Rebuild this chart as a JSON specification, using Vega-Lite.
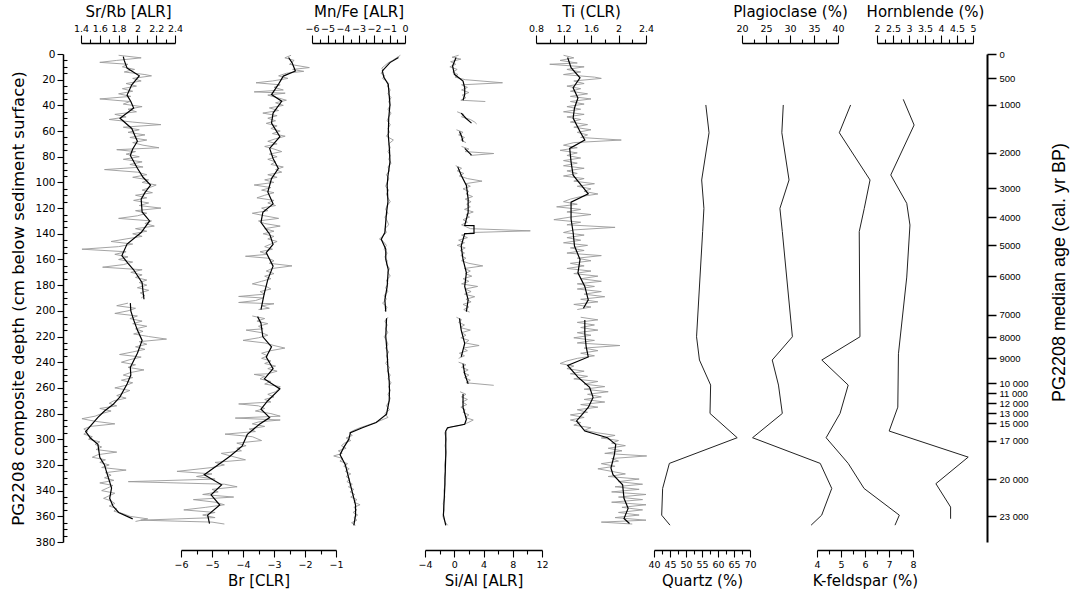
{
"$schema": "https://vega.github.io/schema/vega-lite/v6.json",
"width": 924, "height": 488,
"autosize": {"type": "none"},
"padding": {"left": 63, "top": 54, "right": 85, "bottom": 55},
"background": "white",
"config": {
 "view": {"stroke": null},
 "axis": {"domainColor": "black", "tickColor": "black", "labelColor": "black", "titleColor": "black", "labelFont": "DejaVu Sans", "titleFont": "DejaVu Sans", "titleFontWeight": "normal", "grid": false, "labelFontSize": 9.5, "titleFontSize": 15, "domainWidth": 1.3, "tickWidth": 1.1, "labelOverlap": false, "labelFlush": false}
},
"datasets": {
 "srrb_raw": [
{"d":1,"v":1.80,"g":0},{"d":3,"v":2.04,"g":0},{"d":5,"v":1.78,"g":0},{"d":6.5,"v":1.60,"g":0},{"d":8,"v":1.90,"g":0},{"d":10,"v":1.84,"g":0},{"d":12,"v":1.97,"g":0},{"d":14,"v":1.86,"g":0},{"d":16,"v":2.08,"g":0},{"d":17,"v":2.15,"g":0},{"d":19,"v":1.95,"g":0},{"d":21,"v":2.04,"g":0},{"d":23,"v":1.88,"g":0},{"d":25,"v":1.99,"g":0},{"d":27,"v":1.84,"g":0},{"d":29,"v":1.95,"g":0},{"d":31,"v":1.80,"g":0},{"d":33,"v":1.93,"g":0},{"d":35,"v":1.60,"g":0},{"d":37,"v":1.92,"g":0},{"d":39,"v":1.85,"g":0},{"d":41,"v":2.05,"g":0},{"d":43,"v":1.90,"g":0},{"d":45,"v":1.99,"g":0},{"d":47,"v":1.76,"g":0},{"d":49,"v":1.88,"g":0},{"d":51,"v":1.70,"g":0},{"d":53,"v":1.95,"g":0},{"d":55,"v":2.25,"g":0},{"d":57,"v":1.85,"g":0},{"d":59,"v":2.02,"g":0},{"d":61,"v":1.90,"g":0},{"d":63,"v":2.08,"g":0},{"d":65,"v":1.92,"g":0},{"d":67,"v":2.10,"g":0},{"d":69,"v":1.95,"g":0},{"d":71,"v":2.06,"g":0},{"d":73,"v":2.23,"g":0},{"d":74.5,"v":1.78,"g":0},{"d":76,"v":1.98,"g":0},{"d":78,"v":1.88,"g":0},{"d":80,"v":2.02,"g":0},{"d":82,"v":1.85,"g":0},{"d":84,"v":2.05,"g":0},{"d":86,"v":1.92,"g":0},{"d":88,"v":2.06,"g":0},{"d":90,"v":1.65,"g":0},{"d":92,"v":2.0,"g":0},{"d":94,"v":2.10,"g":0},{"d":96,"v":1.95,"g":0},{"d":98,"v":2.12,"g":0},{"d":100,"v":2.05,"g":0},{"d":102,"v":2.20,"g":0},{"d":104,"v":2.13,"g":0},{"d":106,"v":2.05,"g":0},{"d":108,"v":2.16,"g":0},{"d":110,"v":1.98,"g":0},{"d":112,"v":2.10,"g":0},{"d":114,"v":1.96,"g":0},{"d":116,"v":2.12,"g":0},{"d":118,"v":2.02,"g":0},{"d":120,"v":2.25,"g":0},{"d":122,"v":1.98,"g":0},{"d":124,"v":2.10,"g":0},{"d":126,"v":2.00,"g":0},{"d":128,"v":1.80,"g":0},{"d":130,"v":2.15,"g":0},{"d":132,"v":2.08,"g":0},{"d":134,"v":2.18,"g":0},{"d":136,"v":1.98,"g":0},{"d":138,"v":2.10,"g":0},{"d":140,"v":1.95,"g":0},{"d":142,"v":2.05,"g":0},{"d":144,"v":1.88,"g":0},{"d":146,"v":1.72,"g":0},{"d":148,"v":1.95,"g":0},{"d":150,"v":1.80,"g":0},{"d":152,"v":1.41,"g":0},{"d":154,"v":1.88,"g":0},{"d":156,"v":1.76,"g":0},{"d":158,"v":1.90,"g":0},{"d":160,"v":1.80,"g":0},{"d":162,"v":1.95,"g":0},{"d":164,"v":1.85,"g":0},{"d":166,"v":1.63,"g":0},{"d":168,"v":2.05,"g":0},{"d":170,"v":1.93,"g":0},{"d":172,"v":2.05,"g":0},{"d":174,"v":1.98,"g":0},{"d":176,"v":2.10,"g":0},{"d":178,"v":2.02,"g":0},{"d":180,"v":2.10,"g":0},{"d":182,"v":2.0,"g":0},{"d":184,"v":2.12,"g":0},{"d":186,"v":2.03,"g":0},{"d":188,"v":2.08,"g":0},{"d":190,"v":2.04,"g":0},
{"d":194,"v":1.90,"g":1},{"d":196,"v":1.78,"g":1},{"d":198,"v":1.98,"g":1},{"d":200,"v":1.90,"g":1},{"d":202,"v":1.76,"g":1},{"d":204,"v":2.0,"g":1},{"d":206,"v":1.92,"g":1},{"d":208,"v":2.05,"g":1},{"d":210,"v":1.95,"g":1},{"d":212,"v":2.10,"g":1},{"d":214,"v":1.98,"g":1},{"d":216,"v":2.06,"g":1},{"d":218,"v":1.96,"g":1},{"d":220,"v":2.12,"g":1},{"d":222,"v":2.31,"g":1},{"d":224,"v":2.02,"g":1},{"d":226,"v":2.10,"g":1},{"d":228,"v":1.98,"g":1},{"d":230,"v":2.08,"g":1},{"d":232,"v":1.95,"g":1},{"d":234,"v":1.81,"g":1},{"d":236,"v":2.04,"g":1},{"d":238,"v":1.92,"g":1},{"d":240,"v":1.83,"g":1},{"d":242,"v":1.98,"g":1},{"d":244,"v":1.90,"g":1},{"d":246,"v":2.07,"g":1},{"d":248,"v":1.93,"g":1},{"d":250,"v":1.85,"g":1},{"d":252,"v":1.95,"g":1},{"d":254,"v":1.83,"g":1},{"d":256,"v":1.95,"g":1},{"d":258,"v":1.88,"g":1},{"d":260,"v":1.76,"g":1},{"d":262,"v":1.92,"g":1},{"d":264,"v":1.85,"g":1},{"d":266,"v":1.78,"g":1},{"d":268,"v":1.88,"g":1},{"d":270,"v":1.75,"g":1},{"d":272,"v":1.70,"g":1},{"d":274,"v":1.78,"g":1},{"d":276,"v":1.60,"g":1},{"d":278,"v":1.72,"g":1},{"d":280,"v":1.62,"g":1},{"d":282,"v":1.55,"g":1},{"d":284,"v":1.41,"g":1},{"d":286,"v":1.55,"g":1},{"d":288,"v":1.76,"g":1},{"d":290,"v":1.50,"g":1},{"d":292,"v":1.43,"g":1},{"d":294,"v":1.47,"g":1},{"d":296,"v":1.43,"g":1},{"d":298,"v":1.52,"g":1},{"d":300,"v":1.48,"g":1},{"d":302,"v":1.60,"g":1},{"d":304,"v":1.55,"g":1},{"d":306,"v":1.62,"g":1},{"d":308,"v":1.56,"g":1},{"d":310,"v":1.78,"g":1},{"d":312,"v":1.58,"g":1},{"d":314,"v":1.52,"g":1},{"d":316,"v":1.66,"g":1},{"d":318,"v":1.60,"g":1},{"d":320,"v":1.70,"g":1},{"d":322,"v":1.62,"g":1},{"d":324,"v":1.88,"g":1},{"d":326,"v":1.66,"g":1},{"d":328,"v":1.72,"g":1},{"d":330,"v":1.65,"g":1},{"d":332,"v":1.75,"g":1},{"d":334,"v":1.60,"g":1},{"d":336,"v":1.74,"g":1},{"d":338,"v":1.68,"g":1},{"d":340,"v":1.62,"g":1},{"d":342,"v":1.76,"g":1},{"d":344,"v":1.70,"g":1},{"d":346,"v":1.64,"g":1},{"d":348,"v":1.72,"g":1},{"d":350,"v":1.76,"g":1},{"d":352,"v":1.70,"g":1},{"d":354,"v":1.78,"g":1},{"d":356,"v":1.75,"g":1},{"d":358,"v":1.85,"g":1},{"d":360,"v":1.92,"g":1},{"d":362,"v":2.11,"g":1},{"d":364,"v":1.98,"g":1}
 ],
 "srrb_s": [
{"d":2,"v":1.85,"g":0},{"d":5,"v":1.86,"g":0},{"d":11,"v":1.89,"g":0},{"d":17,"v":2.02,"g":0},{"d":24,"v":1.94,"g":0},{"d":32,"v":1.89,"g":0},{"d":37,"v":1.93,"g":0},{"d":42,"v":1.96,"g":0},{"d":50,"v":1.815,"g":0},{"d":58,"v":1.94,"g":0},{"d":63,"v":1.97,"g":0},{"d":68,"v":2.0,"g":0},{"d":74,"v":1.95,"g":0},{"d":79,"v":1.925,"g":0},{"d":89,"v":2.0,"g":0},{"d":96,"v":2.06,"g":0},{"d":102,"v":2.14,"g":0},{"d":108,"v":2.08,"g":0},{"d":113,"v":2.04,"g":0},{"d":123,"v":2.05,"g":0},{"d":130,"v":2.13,"g":0},{"d":139,"v":2.04,"g":0},{"d":148,"v":1.89,"g":0},{"d":157,"v":1.835,"g":0},{"d":163,"v":1.9,"g":0},{"d":168,"v":1.96,"g":0},{"d":178,"v":2.05,"g":0},{"d":185,"v":2.06,"g":0},{"d":191,"v":2.07,"g":0},
{"d":194,"v":1.925,"g":1},{"d":200,"v":1.93,"g":1},{"d":207,"v":1.96,"g":1},{"d":215,"v":2.0,"g":1},{"d":223,"v":2.05,"g":1},{"d":233,"v":2.0,"g":1},{"d":244,"v":1.925,"g":1},{"d":250,"v":1.93,"g":1},{"d":257,"v":1.89,"g":1},{"d":267,"v":1.815,"g":1},{"d":273,"v":1.74,"g":1},{"d":278,"v":1.65,"g":1},{"d":283,"v":1.58,"g":1},{"d":288,"v":1.52,"g":1},{"d":294,"v":1.45,"g":1},{"d":299,"v":1.5,"g":1},{"d":304,"v":1.58,"g":1},{"d":314,"v":1.6,"g":1},{"d":320,"v":1.65,"g":1},{"d":325,"v":1.67,"g":1},{"d":332,"v":1.7,"g":1},{"d":338,"v":1.725,"g":1},{"d":346,"v":1.705,"g":1},{"d":352,"v":1.74,"g":1},{"d":357,"v":1.8,"g":1},{"d":362,"v":1.95,"g":1}
 ],
 "br_raw": [
{"d":1,"v":-2.45,"g":0},{"d":3,"v":-2.65,"g":0},{"d":5,"v":-2.35,"g":0},{"d":8,"v":-2.5,"g":0},{"d":10.6,"v":-1.86,"g":0},{"d":12,"v":-2.4,"g":0},{"d":13.5,"v":-2.04,"g":0},{"d":15,"v":-2.6,"g":0},{"d":17,"v":-2.85,"g":0},{"d":19,"v":-2.55,"g":0},{"d":21,"v":-3.05,"g":0},{"d":22.4,"v":-3.58,"g":0},{"d":24,"v":-2.8,"g":0},{"d":26,"v":-3.0,"g":0},{"d":28,"v":-2.7,"g":0},{"d":29.5,"v":-3.64,"g":0},{"d":30.5,"v":-2.64,"g":0},{"d":32,"v":-3.2,"g":0},{"d":34,"v":-2.9,"g":0},{"d":36,"v":-2.6,"g":0},{"d":38,"v":-2.95,"g":0},{"d":40,"v":-2.7,"g":0},{"d":42,"v":-3.15,"g":0},{"d":44,"v":-2.85,"g":0},{"d":46,"v":-3.36,"g":0},{"d":48,"v":-2.9,"g":0},{"d":50,"v":-3.2,"g":0},{"d":52,"v":-2.95,"g":0},{"d":54,"v":-3.25,"g":0},{"d":56,"v":-2.9,"g":0},{"d":58,"v":-3.1,"g":0},{"d":60,"v":-2.8,"g":0},{"d":62,"v":-3.05,"g":0},{"d":64,"v":-2.64,"g":0},{"d":66,"v":-2.95,"g":0},{"d":68,"v":-3.2,"g":0},{"d":70,"v":-2.9,"g":0},{"d":72,"v":-3.3,"g":0},{"d":74,"v":-3.0,"g":0},{"d":76,"v":-2.75,"g":0},{"d":78,"v":-3.15,"g":0},{"d":80,"v":-2.9,"g":0},{"d":82,"v":-3.2,"g":0},{"d":84,"v":-2.95,"g":0},{"d":86,"v":-3.1,"g":0},{"d":88,"v":-2.7,"g":0},{"d":90,"v":-2.95,"g":0},{"d":92,"v":-2.75,"g":0},{"d":94,"v":-3.2,"g":0},{"d":96,"v":-2.9,"g":0},{"d":98,"v":-3.3,"g":0},{"d":100,"v":-3.0,"g":0},{"d":102,"v":-3.64,"g":0},{"d":104,"v":-3.1,"g":0},{"d":106,"v":-3.4,"g":0},{"d":108,"v":-3.0,"g":0},{"d":110,"v":-3.3,"g":0},{"d":112,"v":-3.55,"g":0},{"d":114,"v":-3.0,"g":0},{"d":116,"v":-3.2,"g":0},{"d":118,"v":-2.95,"g":0},{"d":120,"v":-3.4,"g":0},{"d":122,"v":-3.2,"g":0},{"d":124,"v":-3.7,"g":0},{"d":126,"v":-3.3,"g":0},{"d":128,"v":-2.85,"g":0},{"d":130,"v":-3.5,"g":0},{"d":132,"v":-3.3,"g":0},{"d":134,"v":-2.8,"g":0},{"d":136,"v":-3.3,"g":0},{"d":138,"v":-3.0,"g":0},{"d":140,"v":-3.35,"g":0},{"d":142,"v":-3.0,"g":0},{"d":144,"v":-3.2,"g":0},{"d":146,"v":-2.9,"g":0},{"d":148,"v":-3.1,"g":0},{"d":150,"v":-3.3,"g":0},{"d":152,"v":-3.05,"g":0},{"d":154,"v":-3.45,"g":0},{"d":156,"v":-3.2,"g":0},{"d":157.5,"v":-3.92,"g":0},{"d":159,"v":-3.2,"g":0},{"d":161,"v":-3.0,"g":0},{"d":163,"v":-3.15,"g":0},{"d":165,"v":-2.42,"g":0},{"d":167,"v":-3.05,"g":0},{"d":169,"v":-3.25,"g":0},{"d":171,"v":-3.0,"g":0},{"d":173,"v":-3.3,"g":0},{"d":175,"v":-3.1,"g":0},{"d":177,"v":-3.4,"g":0},{"d":179,"v":-3.7,"g":0},{"d":181,"v":-3.25,"g":0},{"d":183,"v":-3.1,"g":0},{"d":185,"v":-3.45,"g":0},{"d":187,"v":-3.3,"g":0},{"d":188.8,"v":-4.14,"g":0},{"d":190,"v":-3.35,"g":0},{"d":192,"v":-3.6,"g":0},{"d":193.5,"v":-4.14,"g":0},{"d":194.5,"v":-3.0,"g":0},{"d":196,"v":-3.4,"g":0},{"d":198,"v":-3.15,"g":0},{"d":199,"v":-3.5,"g":0},
{"d":204,"v":-3.7,"g":1},{"d":206,"v":-3.3,"g":1},{"d":208,"v":-3.55,"g":1},{"d":210,"v":-3.2,"g":1},{"d":212,"v":-3.5,"g":1},{"d":214,"v":-3.35,"g":1},{"d":215,"v":-3.9,"g":1},{"d":217,"v":-3.4,"g":1},{"d":219,"v":-3.2,"g":1},{"d":221,"v":-3.5,"g":1},{"d":223,"v":-4.0,"g":1},{"d":225,"v":-3.3,"g":1},{"d":227,"v":-3.0,"g":1},{"d":229,"v":-2.65,"g":1},{"d":231,"v":-3.1,"g":1},{"d":233,"v":-3.4,"g":1},{"d":235,"v":-3.2,"g":1},{"d":237,"v":-3.4,"g":1},{"d":239,"v":-3.1,"g":1},{"d":241,"v":-3.3,"g":1},{"d":243,"v":-2.95,"g":1},{"d":245,"v":-3.2,"g":1},{"d":247,"v":-2.9,"g":1},{"d":249,"v":-3.2,"g":1},{"d":249.5,"v":-3.64,"g":1},{"d":251,"v":-3.3,"g":1},{"d":253,"v":-3.45,"g":1},{"d":255,"v":-3.1,"g":1},{"d":257,"v":-3.3,"g":1},{"d":259,"v":-2.8,"g":1},{"d":261,"v":-2.85,"g":1},{"d":263,"v":-2.95,"g":1},{"d":265,"v":-3.2,"g":1},{"d":267,"v":-3.0,"g":1},{"d":269,"v":-3.3,"g":1},{"d":271,"v":-3.1,"g":1},{"d":272.5,"v":-4.14,"g":1},{"d":274,"v":-3.5,"g":1},{"d":276,"v":-3.3,"g":1},{"d":278,"v":-3.6,"g":1},{"d":280,"v":-3.1,"g":1},{"d":282,"v":-2.8,"g":1},{"d":283.5,"v":-4.25,"g":1},{"d":285,"v":-2.8,"g":1},{"d":286.5,"v":-3.5,"g":1},{"d":288,"v":-3.7,"g":1},{"d":290,"v":-3.3,"g":1},{"d":292,"v":-3.8,"g":1},{"d":294,"v":-3.6,"g":1},{"d":296,"v":-4.58,"g":1},{"d":298,"v":-3.7,"g":1},{"d":301,"v":-3.4,"g":1},{"d":303,"v":-4.2,"g":1},{"d":305,"v":-3.9,"g":1},{"d":307,"v":-4.2,"g":1},{"d":309,"v":-4.05,"g":1},{"d":311,"v":-4.7,"g":1},{"d":313,"v":-4.4,"g":1},{"d":316,"v":-3.92,"g":1},{"d":318,"v":-4.9,"g":1},{"d":320,"v":-4.6,"g":1},{"d":322,"v":-5.0,"g":1},{"d":325,"v":-6.13,"g":1},{"d":327,"v":-5.0,"g":1},{"d":329,"v":-5.5,"g":1},{"d":331,"v":-4.9,"g":1},{"d":333,"v":-7.7,"g":1},{"d":335,"v":-4.6,"g":1},{"d":337,"v":-4.19,"g":1},{"d":339,"v":-5.0,"g":1},{"d":341,"v":-4.8,"g":1},{"d":343,"v":-5.3,"g":1},{"d":345,"v":-4.3,"g":1},{"d":347,"v":-5.6,"g":1},{"d":349,"v":-4.9,"g":1},{"d":351,"v":-4.6,"g":1},{"d":353,"v":-5.2,"g":1},{"d":355,"v":-5.91,"g":1},{"d":357,"v":-4.9,"g":1},{"d":359,"v":-5.3,"g":1},{"d":361,"v":-4.9,"g":1},{"d":363,"v":-7.3,"g":1},{"d":364.5,"v":-5.0,"g":1},{"d":366,"v":-4.6,"g":1}
 ],
 "br_s": [
{"d":2.7,"v":-2.53,"g":0},{"d":6.7,"v":-2.42,"g":0},{"d":13.2,"v":-2.31,"g":0},{"d":17.2,"v":-2.7,"g":0},{"d":23.7,"v":-2.86,"g":0},{"d":31.6,"v":-3.08,"g":0},{"d":36.8,"v":-2.75,"g":0},{"d":46,"v":-3.03,"g":0},{"d":53.8,"v":-3.08,"g":0},{"d":64.3,"v":-2.81,"g":0},{"d":73.5,"v":-3.14,"g":0},{"d":81.3,"v":-3.03,"g":0},{"d":89.2,"v":-2.86,"g":0},{"d":97,"v":-3.08,"g":0},{"d":107.5,"v":-3.2,"g":0},{"d":116.7,"v":-3.03,"g":0},{"d":123.3,"v":-3.36,"g":0},{"d":131.1,"v":-3.42,"g":0},{"d":140.3,"v":-3.14,"g":0},{"d":148.2,"v":-3.03,"g":0},{"d":154.7,"v":-3.25,"g":0},{"d":165.2,"v":-3.03,"g":0},{"d":175.7,"v":-3.2,"g":0},{"d":186.1,"v":-3.31,"g":0},{"d":199,"v":-3.42,"g":0},
{"d":204.5,"v":-3.53,"g":1},{"d":209.7,"v":-3.42,"g":1},{"d":220.2,"v":-3.36,"g":1},{"d":228,"v":-3.08,"g":1},{"d":235.9,"v":-3.25,"g":1},{"d":245.1,"v":-3.03,"g":1},{"d":253,"v":-3.31,"g":1},{"d":260.8,"v":-2.81,"g":1},{"d":270,"v":-3.2,"g":1},{"d":276.5,"v":-3.42,"g":1},{"d":283.1,"v":-3.14,"g":1},{"d":288.3,"v":-3.47,"g":1},{"d":296.2,"v":-3.86,"g":1},{"d":305.4,"v":-4.03,"g":1},{"d":313.2,"v":-4.42,"g":1},{"d":319.8,"v":-4.8,"g":1},{"d":327.6,"v":-5.25,"g":1},{"d":335.5,"v":-4.69,"g":1},{"d":343.3,"v":-5.03,"g":1},{"d":351.2,"v":-4.75,"g":1},{"d":359.1,"v":-5.14,"g":1},{"d":365.6,"v":-5.08,"g":1}
 ],
 "mnfe_raw": [
{"d":1,"v":-0.3,"g":0},{"d":3,"v":-0.55,"g":0},{"d":5,"v":-0.8,"g":0},{"d":7,"v":-1.1,"g":0},{"d":9,"v":-1.3,"g":0},{"d":11,"v":-1.5,"g":0},{"d":13,"v":-1.4,"g":0},{"d":15,"v":-1.55,"g":0},{"d":17,"v":-1.3,"g":0},{"d":19,"v":-1.45,"g":0},{"d":21,"v":-1.2,"g":0},{"d":23,"v":-1.05,"g":0},{"d":25,"v":-1.15,"g":0},{"d":28,"v":-0.95,"g":0},{"d":31,"v":-1.1,"g":0},{"d":34,"v":-0.9,"g":0},{"d":37,"v":-1.05,"g":0},{"d":40,"v":-0.95,"g":0},{"d":43,"v":-1.1,"g":0},{"d":46,"v":-0.9,"g":0},{"d":49,"v":-1.05,"g":0},{"d":52,"v":-1.15,"g":0},{"d":55,"v":-0.95,"g":0},{"d":58,"v":-1.1,"g":0},{"d":61,"v":-1.0,"g":0},{"d":64,"v":-1.2,"g":0},{"d":67,"v":-0.75,"g":0},{"d":70,"v":-1.05,"g":0},{"d":73,"v":-0.95,"g":0},{"d":76,"v":-1.1,"g":0},{"d":79,"v":-0.95,"g":0},{"d":82,"v":-1.05,"g":0},{"d":85,"v":-0.9,"g":0},{"d":88,"v":-1.1,"g":0},{"d":91,"v":-1.0,"g":0},{"d":94,"v":-1.2,"g":0},{"d":97,"v":-1.05,"g":0},{"d":100,"v":-1.15,"g":0},{"d":103,"v":-1.25,"g":0},{"d":106,"v":-1.05,"g":0},{"d":109,"v":-1.2,"g":0},{"d":112,"v":-1.1,"g":0},{"d":115,"v":-0.95,"g":0},{"d":118,"v":-1.15,"g":0},{"d":121,"v":-1.25,"g":0},{"d":124,"v":-1.1,"g":0},{"d":127,"v":-1.3,"g":0},{"d":130,"v":-1.15,"g":0},{"d":133,"v":-1.05,"g":0},{"d":136,"v":-1.3,"g":0},{"d":139,"v":-1.2,"g":0},{"d":142,"v":-1.45,"g":0},{"d":144,"v":-1.65,"g":0},{"d":146,"v":-1.4,"g":0},{"d":149,"v":-1.2,"g":0},{"d":152,"v":-1.35,"g":0},{"d":155,"v":-1.15,"g":0},{"d":158,"v":-1.3,"g":0},{"d":161,"v":-1.15,"g":0},{"d":164,"v":-1.2,"g":0},{"d":167,"v":-1.0,"g":0},{"d":170,"v":-1.1,"g":0},{"d":173,"v":-0.95,"g":0},{"d":176,"v":-1.2,"g":0},{"d":179,"v":-1.1,"g":0},{"d":182,"v":-1.25,"g":0},{"d":185,"v":-1.1,"g":0},{"d":188,"v":-1.35,"g":0},{"d":191,"v":-1.2,"g":0},{"d":194,"v":-1.45,"g":0},{"d":197,"v":-1.15,"g":0},{"d":200,"v":-1.3,"g":0},
{"d":205,"v":-1.1,"g":1},{"d":208,"v":-1.3,"g":1},{"d":211,"v":-1.15,"g":1},{"d":214,"v":-1.25,"g":1},{"d":217,"v":-1.1,"g":1},{"d":220,"v":-1.35,"g":1},{"d":223,"v":-1.2,"g":1},{"d":226,"v":-1.1,"g":1},{"d":229,"v":-1.25,"g":1},{"d":232,"v":-1.05,"g":1},{"d":235,"v":-1.2,"g":1},{"d":238,"v":-1.1,"g":1},{"d":241,"v":-1.25,"g":1},{"d":244,"v":-1.0,"g":1},{"d":247,"v":-1.15,"g":1},{"d":250,"v":-0.95,"g":1},{"d":253,"v":-1.1,"g":1},{"d":256,"v":-0.9,"g":1},{"d":259,"v":-1.05,"g":1},{"d":262,"v":-0.95,"g":1},{"d":265,"v":-1.1,"g":1},{"d":268,"v":-0.95,"g":1},{"d":271,"v":-1.05,"g":1},{"d":274,"v":-1.2,"g":1},{"d":277,"v":-1.0,"g":1},{"d":280,"v":-1.3,"g":1},{"d":283,"v":-1.1,"g":1},{"d":285,"v":-1.5,"g":1},{"d":287,"v":-1.9,"g":1},{"d":289,"v":-2.4,"g":1},{"d":291,"v":-2.9,"g":1},{"d":293,"v":-3.3,"g":1},{"d":295,"v":-3.6,"g":1},{"d":297,"v":-3.4,"g":1},{"d":299,"v":-3.8,"g":1},{"d":301,"v":-3.5,"g":1},{"d":303,"v":-3.9,"g":1},{"d":305,"v":-4.1,"g":1},{"d":307,"v":-3.8,"g":1},{"d":309,"v":-4.3,"g":1},{"d":311,"v":-4.05,"g":1},{"d":313,"v":-4.6,"g":1},{"d":315,"v":-4.0,"g":1},{"d":317,"v":-4.2,"g":1},{"d":319,"v":-3.7,"g":1},{"d":321,"v":-3.95,"g":1},{"d":323,"v":-3.6,"g":1},{"d":325,"v":-3.85,"g":1},{"d":327,"v":-3.5,"g":1},{"d":329,"v":-3.8,"g":1},{"d":331,"v":-3.55,"g":1},{"d":333,"v":-3.75,"g":1},{"d":335,"v":-3.4,"g":1},{"d":337,"v":-3.65,"g":1},{"d":339,"v":-3.3,"g":1},{"d":341,"v":-3.55,"g":1},{"d":343,"v":-3.25,"g":1},{"d":345,"v":-3.5,"g":1},{"d":347,"v":-3.1,"g":1},{"d":349,"v":-3.3,"g":1},{"d":351,"v":-2.9,"g":1},{"d":353,"v":-3.3,"g":1},{"d":355,"v":-3.1,"g":1},{"d":357,"v":-3.35,"g":1},{"d":359,"v":-3.05,"g":1},{"d":361,"v":-3.3,"g":1},{"d":363,"v":-3.1,"g":1},{"d":365,"v":-3.45,"g":1},{"d":367,"v":-3.2,"g":1}
 ],
 "mnfe_s": [
{"d":2.7,"v":-0.42,"g":0},{"d":6.7,"v":-0.97,"g":0},{"d":13.2,"v":-1.46,"g":0},{"d":18,"v":-1.37,"g":0},{"d":23.7,"v":-1.08,"g":0},{"d":39.4,"v":-0.97,"g":0},{"d":50,"v":-1.05,"g":0},{"d":63,"v":-1.08,"g":0},{"d":75,"v":-1.0,"g":0},{"d":84,"v":-0.97,"g":0},{"d":95,"v":-1.1,"g":0},{"d":102.3,"v":-1.15,"g":0},{"d":115,"v":-1.1,"g":0},{"d":123.3,"v":-1.19,"g":0},{"d":139,"v":-1.3,"g":0},{"d":144.2,"v":-1.53,"g":0},{"d":152,"v":-1.24,"g":0},{"d":160,"v":-1.24,"g":0},{"d":167.8,"v":-1.08,"g":0},{"d":181,"v":-1.15,"g":0},{"d":191.4,"v":-1.3,"g":0},{"d":200.6,"v":-1.24,"g":0},
{"d":205.8,"v":-1.19,"g":1},{"d":220,"v":-1.24,"g":1},{"d":233.3,"v":-1.15,"g":1},{"d":245,"v":-1.1,"g":1},{"d":254.3,"v":-1.02,"g":1},{"d":262,"v":-1.0,"g":1},{"d":270,"v":-1.02,"g":1},{"d":280.5,"v":-1.19,"g":1},{"d":287,"v":-1.86,"g":1},{"d":291,"v":-2.75,"g":1},{"d":294.9,"v":-3.52,"g":1},{"d":300.1,"v":-3.63,"g":1},{"d":306.7,"v":-3.97,"g":1},{"d":312,"v":-4.19,"g":1},{"d":319.8,"v":-3.85,"g":1},{"d":330.2,"v":-3.63,"g":1},{"d":340.7,"v":-3.41,"g":1},{"d":351.2,"v":-3.19,"g":1},{"d":359,"v":-3.19,"g":1},{"d":367,"v":-3.3,"g":1}
 ],
 "sial_raw": [
{"d":1,"v":0.6,"g":0},{"d":2.5,"v":-0.3,"g":0},{"d":4,"v":0.9,"g":0},{"d":6,"v":-0.5,"g":0},{"d":8,"v":0.2,"g":0},{"d":10,"v":-0.6,"g":0},{"d":12,"v":0.4,"g":0},{"d":14,"v":-0.2,"g":0},{"d":16,"v":0.5,"g":0},{"d":18,"v":0.1,"g":0},{"d":20,"v":1.5,"g":0},{"d":22.4,"v":6.6,"g":0},{"d":24,"v":1.0,"g":0},{"d":26,"v":1.8,"g":0},{"d":28,"v":1.0,"g":0},{"d":30,"v":2.0,"g":0},{"d":32,"v":1.1,"g":0},{"d":34,"v":1.6,"g":0},{"d":36,"v":0.9,"g":0},{"d":37,"v":4.25,"g":0},
{"d":45,"v":0.4,"g":1},{"d":47,"v":1.3,"g":1},{"d":49,"v":1.0,"g":1},{"d":51,"v":2.2,"g":1},{"d":53,"v":2.8,"g":1},{"d":54.5,"v":3.07,"g":1},
{"d":59,"v":0.3,"g":2},{"d":61,"v":1.2,"g":2},{"d":63,"v":0.6,"g":2},{"d":65,"v":1.4,"g":2},{"d":67,"v":0.9,"g":2},{"d":69,"v":1.6,"g":2},
{"d":72,"v":1.0,"g":3},{"d":74,"v":2.0,"g":3},{"d":76,"v":1.5,"g":3},{"d":77.5,"v":5.4,"g":3},{"d":79,"v":2.2,"g":3},
{"d":87,"v":0.2,"g":4},{"d":89,"v":1.0,"g":4},{"d":91,"v":0.4,"g":4},{"d":93,"v":1.3,"g":4},{"d":95,"v":0.7,"g":4},{"d":97,"v":1.8,"g":4},{"d":99,"v":3.8,"g":4},{"d":101,"v":1.5,"g":4},{"d":103,"v":2.2,"g":4},{"d":105,"v":1.2,"g":4},{"d":107,"v":2.0,"g":4},{"d":109,"v":1.6,"g":4},{"d":111,"v":2.5,"g":4},{"d":113,"v":1.5,"g":4},{"d":115,"v":2.3,"g":4},{"d":117,"v":1.7,"g":4},{"d":119,"v":2.2,"g":4},{"d":121,"v":1.4,"g":4},{"d":123,"v":2.6,"g":4},{"d":125,"v":1.6,"g":4},{"d":127,"v":2.1,"g":4},{"d":129,"v":1.2,"g":4},{"d":131,"v":1.8,"g":4},{"d":133,"v":1.0,"g":4},{"d":136,"v":2.2,"g":4},{"d":137.7,"v":10.4,"g":4},{"d":139,"v":2.4,"g":4},{"d":141,"v":1.0,"g":4},{"d":143,"v":1.8,"g":4},{"d":145,"v":0.6,"g":4},{"d":147,"v":1.4,"g":4},{"d":149,"v":0.4,"g":4},{"d":151,"v":1.5,"g":4},{"d":153,"v":0.8,"g":4},{"d":155,"v":1.4,"g":4},{"d":157,"v":0.9,"g":4},{"d":159,"v":1.6,"g":4},{"d":161,"v":1.0,"g":4},{"d":163,"v":2.0,"g":4},{"d":165,"v":3.9,"g":4},{"d":167,"v":1.4,"g":4},{"d":169,"v":2.2,"g":4},{"d":171,"v":1.5,"g":4},{"d":173,"v":2.4,"g":4},{"d":175,"v":1.2,"g":4},{"d":177,"v":2.0,"g":4},{"d":179,"v":1.0,"g":4},{"d":181,"v":3.2,"g":4},{"d":183,"v":1.5,"g":4},{"d":185,"v":2.3,"g":4},{"d":187,"v":1.4,"g":4},{"d":189,"v":2.8,"g":4},{"d":191,"v":1.6,"g":4},{"d":193,"v":2.3,"g":4},{"d":195,"v":1.2,"g":4},{"d":197,"v":2.0,"g":4},{"d":199,"v":1.3,"g":4},{"d":201,"v":2.1,"g":4},
{"d":205,"v":0.3,"g":5},{"d":207,"v":1.0,"g":5},{"d":209,"v":0.6,"g":5},{"d":211,"v":1.4,"g":5},{"d":213,"v":0.8,"g":5},{"d":215,"v":2.2,"g":5},{"d":217,"v":1.0,"g":5},{"d":219,"v":1.6,"g":5},{"d":221,"v":0.9,"g":5},{"d":223,"v":2.0,"g":5},{"d":225,"v":1.5,"g":5},{"d":227,"v":3.4,"g":5},{"d":229,"v":1.2,"g":5},{"d":231,"v":1.8,"g":5},{"d":233,"v":0.7,"g":5},{"d":235,"v":1.4,"g":5},{"d":237,"v":0.6,"g":5},
{"d":240,"v":0.6,"g":6},{"d":242,"v":1.6,"g":6},{"d":244,"v":1.0,"g":6},{"d":246,"v":1.9,"g":6},{"d":248,"v":1.2,"g":6},{"d":250,"v":2.0,"g":6},{"d":252,"v":1.4,"g":6},{"d":254,"v":2.2,"g":6},{"d":256,"v":1.6,"g":6},{"d":258,"v":5.4,"g":6},
{"d":263,"v":0.8,"g":7},{"d":265,"v":1.6,"g":7},{"d":267,"v":1.0,"g":7},{"d":269,"v":1.8,"g":7},{"d":271,"v":1.1,"g":7},{"d":273,"v":1.7,"g":7},{"d":275,"v":0.9,"g":7},{"d":277,"v":1.5,"g":7},{"d":279,"v":1.2,"g":7},{"d":281,"v":2.0,"g":7},{"d":283,"v":1.5,"g":7},{"d":285,"v":2.6,"g":7},{"d":287,"v":1.9,"g":7},{"d":289,"v":1.0,"g":7},{"d":290.5,"v":-0.5,"g":7},{"d":292,"v":-1.0,"g":7},{"d":295,"v":-1.3,"g":7},{"d":300,"v":-1.1,"g":7},{"d":305,"v":-1.25,"g":7},{"d":310,"v":-1.1,"g":7},{"d":315,"v":-1.2,"g":7},{"d":320,"v":-1.3,"g":7},{"d":325,"v":-1.2,"g":7},{"d":330,"v":-1.35,"g":7},{"d":335,"v":-1.25,"g":7},{"d":340,"v":-1.4,"g":7},{"d":345,"v":-1.3,"g":7},{"d":350,"v":-1.5,"g":7},{"d":355,"v":-1.4,"g":7},{"d":360,"v":-1.55,"g":7},{"d":364,"v":-1.3,"g":7},{"d":367,"v":-0.9,"g":7}
 ],
 "sial_s": [
{"d":2.7,"v":0.25,"g":0},{"d":9.3,"v":-0.23,"g":0},{"d":15.8,"v":0.02,"g":0},{"d":21.1,"v":1.2,"g":0},{"d":26.3,"v":1.43,"g":0},{"d":31.6,"v":1.43,"g":0},{"d":36,"v":1.2,"g":0},
{"d":46,"v":0.95,"g":1},{"d":50,"v":1.6,"g":1},{"d":53.8,"v":2.36,"g":1},
{"d":60.4,"v":0.72,"g":2},{"d":64,"v":1.0,"g":2},{"d":68.2,"v":1.2,"g":2},
{"d":73.5,"v":1.43,"g":3},{"d":78.7,"v":2.36,"g":3},
{"d":87.9,"v":0.48,"g":4},{"d":94.4,"v":0.95,"g":4},{"d":102.3,"v":1.66,"g":4},{"d":112.8,"v":1.9,"g":4},{"d":123.3,"v":1.9,"g":4},{"d":133.5,"v":1.43,"g":4},{"d":133.6,"v":2.7,"g":4},{"d":139.8,"v":2.7,"g":4},{"d":139.9,"v":1.43,"g":4},{"d":149.5,"v":0.95,"g":4},{"d":160,"v":1.2,"g":4},{"d":170.4,"v":1.66,"g":4},{"d":181,"v":1.43,"g":4},{"d":191.4,"v":1.9,"g":4},{"d":200.6,"v":1.66,"g":4},
{"d":205.8,"v":0.72,"g":5},{"d":215,"v":0.95,"g":5},{"d":225.4,"v":1.43,"g":5},{"d":235.9,"v":0.95,"g":5},
{"d":241.2,"v":1.2,"g":6},{"d":249,"v":1.43,"g":6},{"d":256.9,"v":1.9,"g":6},
{"d":264.7,"v":1.2,"g":7},{"d":275.2,"v":1.2,"g":7},{"d":284.4,"v":1.66,"g":7},{"d":288.3,"v":1.43,"g":7},{"d":291,"v":-0.92,"g":7},{"d":293.6,"v":-1.16,"g":7},{"d":312,"v":-1.16,"g":7},{"d":338,"v":-1.3,"g":7},{"d":359,"v":-1.48,"g":7},{"d":367,"v":-1.16,"g":7}
 ],
 "ti_raw": [
{"d":1,"v":1.2,"g":0},{"d":3,"v":1.35,"g":0},{"d":5,"v":1.15,"g":0},{"d":7,"v":1.4,"g":0},{"d":8,"v":1.0,"g":0},{"d":10,"v":1.5,"g":0},{"d":12,"v":1.25,"g":0},{"d":14,"v":1.45,"g":0},{"d":16,"v":1.2,"g":0},{"d":18,"v":1.65,"g":0},{"d":19,"v":1.75,"g":0},{"d":21,"v":1.35,"g":0},{"d":23,"v":1.5,"g":0},{"d":25,"v":1.25,"g":0},{"d":27,"v":1.45,"g":0},{"d":29,"v":1.3,"g":0},{"d":31,"v":1.55,"g":0},{"d":33,"v":1.3,"g":0},{"d":35,"v":1.6,"g":0},{"d":37,"v":1.3,"g":0},{"d":39,"v":1.5,"g":0},{"d":41,"v":1.25,"g":0},{"d":43,"v":1.45,"g":0},{"d":45,"v":1.2,"g":0},{"d":47,"v":1.5,"g":0},{"d":49,"v":1.25,"g":0},{"d":51,"v":1.45,"g":0},{"d":53,"v":1.3,"g":0},{"d":55,"v":1.55,"g":0},{"d":57,"v":1.35,"g":0},{"d":59,"v":1.6,"g":0},{"d":61,"v":1.4,"g":0},{"d":63,"v":1.55,"g":0},{"d":65,"v":1.45,"g":0},{"d":67,"v":2.04,"g":0},{"d":69,"v":1.35,"g":0},{"d":71,"v":1.2,"g":0},{"d":73,"v":1.4,"g":0},{"d":75,"v":1.15,"g":0},{"d":77,"v":1.4,"g":0},{"d":79,"v":1.25,"g":0},{"d":81,"v":1.45,"g":0},{"d":83,"v":1.2,"g":0},{"d":85,"v":1.4,"g":0},{"d":87,"v":1.2,"g":0},{"d":89,"v":1.5,"g":0},{"d":91,"v":1.25,"g":0},{"d":93,"v":1.4,"g":0},{"d":95,"v":1.2,"g":0},{"d":97,"v":1.5,"g":0},{"d":99,"v":1.35,"g":0},{"d":101,"v":1.65,"g":0},{"d":103,"v":1.4,"g":0},{"d":105,"v":1.6,"g":0},{"d":107,"v":1.5,"g":0},{"d":109,"v":1.7,"g":0},{"d":111,"v":1.45,"g":0},{"d":113,"v":1.3,"g":0},{"d":115,"v":1.2,"g":0},{"d":117,"v":1.4,"g":0},{"d":119,"v":1.1,"g":0},{"d":121,"v":1.45,"g":0},{"d":123,"v":1.25,"g":0},{"d":125,"v":1.6,"g":0},{"d":127,"v":1.3,"g":0},{"d":129,"v":1.06,"g":0},{"d":131,"v":1.45,"g":0},{"d":133,"v":1.25,"g":0},{"d":135,"v":1.95,"g":0},{"d":137,"v":1.35,"g":0},{"d":139,"v":1.2,"g":0},{"d":141,"v":1.5,"g":0},{"d":143,"v":1.25,"g":0},{"d":145,"v":1.45,"g":0},{"d":147,"v":1.2,"g":0},{"d":149,"v":1.55,"g":0},{"d":151,"v":1.3,"g":0},{"d":153,"v":1.5,"g":0},{"d":155,"v":1.25,"g":0},{"d":157,"v":1.75,"g":0},{"d":159,"v":1.4,"g":0},{"d":161,"v":1.6,"g":0},{"d":163,"v":1.3,"g":0},{"d":165,"v":1.5,"g":0},{"d":167,"v":1.25,"g":0},{"d":169,"v":1.6,"g":0},{"d":171,"v":1.35,"g":0},{"d":173,"v":1.7,"g":0},{"d":175,"v":1.45,"g":0},{"d":177,"v":1.75,"g":0},{"d":179,"v":1.4,"g":0},{"d":181,"v":1.65,"g":0},{"d":183,"v":1.4,"g":0},{"d":185,"v":1.75,"g":0},{"d":187,"v":1.5,"g":0},{"d":189,"v":1.8,"g":0},{"d":191,"v":1.45,"g":0},{"d":193,"v":1.7,"g":0},{"d":195,"v":1.35,"g":0},{"d":197,"v":1.6,"g":0},{"d":199,"v":1.4,"g":0},
{"d":205,"v":1.45,"g":1},{"d":207,"v":1.7,"g":1},{"d":209,"v":1.4,"g":1},{"d":211,"v":1.65,"g":1},{"d":213,"v":1.45,"g":1},{"d":215,"v":1.7,"g":1},{"d":217,"v":1.4,"g":1},{"d":219,"v":1.6,"g":1},{"d":221,"v":1.35,"g":1},{"d":223,"v":1.65,"g":1},{"d":225,"v":1.4,"g":1},{"d":227,"v":2.02,"g":1},{"d":229,"v":1.5,"g":1},{"d":231,"v":1.7,"g":1},{"d":233,"v":1.45,"g":1},{"d":235,"v":1.65,"g":1},{"d":237,"v":1.4,"g":1},{"d":239,"v":1.25,"g":1},{"d":241,"v":1.15,"g":1},{"d":243,"v":1.35,"g":1},{"d":245,"v":1.25,"g":1},{"d":247,"v":1.5,"g":1},{"d":249,"v":1.3,"g":1},{"d":251,"v":1.55,"g":1},{"d":253,"v":1.35,"g":1},{"d":255,"v":1.7,"g":1},{"d":257,"v":1.5,"g":1},{"d":259,"v":1.8,"g":1},{"d":261,"v":1.5,"g":1},{"d":263,"v":1.85,"g":1},{"d":265,"v":1.55,"g":1},{"d":267,"v":1.75,"g":1},{"d":269,"v":1.5,"g":1},{"d":271,"v":1.8,"g":1},{"d":273,"v":1.45,"g":1},{"d":275,"v":1.7,"g":1},{"d":277,"v":1.4,"g":1},{"d":279,"v":1.55,"g":1},{"d":281,"v":1.3,"g":1},{"d":283,"v":1.5,"g":1},{"d":285,"v":1.3,"g":1},{"d":287,"v":1.45,"g":1},{"d":289,"v":1.35,"g":1},{"d":291,"v":1.6,"g":1},{"d":293,"v":1.5,"g":1},{"d":295,"v":1.7,"g":1},{"d":297,"v":1.95,"g":1},{"d":299,"v":1.75,"g":1},{"d":301,"v":2.0,"g":1},{"d":303,"v":1.9,"g":1},{"d":305,"v":2.1,"g":1},{"d":307,"v":1.85,"g":1},{"d":309,"v":2.05,"g":1},{"d":311,"v":1.8,"g":1},{"d":313,"v":2.41,"g":1},{"d":315,"v":1.9,"g":1},{"d":317,"v":2.0,"g":1},{"d":319,"v":1.75,"g":1},{"d":321,"v":1.95,"g":1},{"d":323,"v":1.7,"g":1},{"d":325,"v":1.9,"g":1},{"d":327,"v":2.1,"g":1},{"d":329,"v":1.85,"g":1},{"d":331,"v":2.3,"g":1},{"d":333,"v":2.0,"g":1},{"d":335,"v":2.35,"g":1},{"d":337,"v":1.95,"g":1},{"d":339,"v":2.3,"g":1},{"d":341,"v":1.9,"g":1},{"d":343,"v":2.4,"g":1},{"d":345,"v":2.0,"g":1},{"d":347,"v":2.35,"g":1},{"d":349,"v":1.9,"g":1},{"d":351,"v":2.4,"g":1},{"d":353,"v":2.05,"g":1},{"d":355,"v":2.35,"g":1},{"d":357,"v":2.0,"g":1},{"d":359,"v":2.3,"g":1},{"d":361,"v":1.95,"g":1},{"d":363,"v":2.4,"g":1},{"d":364.5,"v":1.75,"g":1},{"d":366,"v":2.2,"g":1}
 ],
 "ti_s": [
{"d":2.7,"v":1.26,"g":0},{"d":10.6,"v":1.31,"g":0},{"d":18.5,"v":1.44,"g":0},{"d":26.3,"v":1.34,"g":0},{"d":34.2,"v":1.41,"g":0},{"d":42,"v":1.36,"g":0},{"d":49.9,"v":1.34,"g":0},{"d":60.4,"v":1.44,"g":0},{"d":66.9,"v":1.51,"g":0},{"d":73.5,"v":1.29,"g":0},{"d":84,"v":1.31,"g":0},{"d":94.4,"v":1.34,"g":0},{"d":102.3,"v":1.46,"g":0},{"d":108.9,"v":1.56,"g":0},{"d":115.4,"v":1.31,"g":0},{"d":128.5,"v":1.31,"g":0},{"d":139,"v":1.34,"g":0},{"d":149.5,"v":1.36,"g":0},{"d":160,"v":1.44,"g":0},{"d":170.4,"v":1.41,"g":0},{"d":181,"v":1.51,"g":0},{"d":191.4,"v":1.56,"g":0},{"d":198,"v":1.49,"g":0},
{"d":207.1,"v":1.51,"g":1},{"d":217.6,"v":1.51,"g":1},{"d":228,"v":1.53,"g":1},{"d":235.9,"v":1.56,"g":1},{"d":242.5,"v":1.26,"g":1},{"d":251.6,"v":1.41,"g":1},{"d":259.5,"v":1.58,"g":1},{"d":267.4,"v":1.63,"g":1},{"d":275.2,"v":1.56,"g":1},{"d":285.7,"v":1.39,"g":1},{"d":293.6,"v":1.51,"g":1},{"d":298.8,"v":1.84,"g":1},{"d":304,"v":1.96,"g":1},{"d":312,"v":1.94,"g":1},{"d":322.4,"v":1.89,"g":1},{"d":327.6,"v":1.92,"g":1},{"d":335.5,"v":2.06,"g":1},{"d":346,"v":2.08,"g":1},{"d":353.8,"v":2.14,"g":1},{"d":361.7,"v":2.08,"g":1},{"d":365.6,"v":2.16,"g":1}
 ],
 "quartz": [{"d":39.7,"v":56.2},{"d":61.3,"v":57.2},{"d":98.1,"v":54.9},{"d":120.2,"v":55.6},{"d":138.3,"v":55.2},{"d":220.2,"v":53.3},{"d":238.3,"v":54.2},{"d":257.8,"v":57.7},{"d":279.9,"v":57.5},{"d":298.8,"v":66.0},{"d":318.8,"v":44.8},{"d":338.3,"v":42.7},{"d":359.1,"v":42.4},{"d":366.9,"v":45.0}],
 "plag": [{"d":39.7,"v":28.6},{"d":61.3,"v":28.3},{"d":98.1,"v":29.8},{"d":120.2,"v":27.9},{"d":138.3,"v":28.4},{"d":220.2,"v":30.5},{"d":238.3,"v":26.3},{"d":257.8,"v":27.6},{"d":279.9,"v":28.4},{"d":298.8,"v":22.2},{"d":318.8,"v":36.3},{"d":338.3,"v":38.7},{"d":359.1,"v":36.6},{"d":366.9,"v":34.4}],
 "kfs": [{"d":39.7,"v":5.40},{"d":61.3,"v":4.93},{"d":98.1,"v":6.21},{"d":120.2,"v":5.97},{"d":138.3,"v":5.76},{"d":220.2,"v":5.79},{"d":238.3,"v":4.2},{"d":257.8,"v":5.3},{"d":279.9,"v":4.96},{"d":298.8,"v":4.38},{"d":318.8,"v":5.3},{"d":338.3,"v":5.96},{"d":359.1,"v":7.43},{"d":366.9,"v":7.25}],
 "hbl": [{"d":35.3,"v":2.82},{"d":55.3,"v":3.16},{"d":94.2,"v":2.43},{"d":116.3,"v":2.93},{"d":133.2,"v":3.03},{"d":173.7,"v":2.93},{"d":233.4,"v":2.67},{"d":275,"v":2.65},{"d":293.6,"v":2.38},{"d":313.9,"v":4.85},{"d":334.6,"v":3.84},{"d":352.8,"v":4.30},{"d":361.9,"v":4.30}],
 "age": [{"d":0,"age":0},{"d":19,"age":500},{"d":39.5,"age":1000},{"d":77,"age":2000},{"d":104.5,"age":3000},{"d":127,"age":4000},{"d":149,"age":5000},{"d":173,"age":6000},{"d":203,"age":7000},{"d":220.5,"age":8000},{"d":237,"age":9000},{"d":256.5,"age":10000},{"d":264.3,"age":11000},{"d":272.1,"age":12000},{"d":279.9,"age":13000},{"d":287.7,"age":15000},{"d":301,"age":17000},{"d":331,"age":20000},{"d":360,"age":23000}]
},
"layer": [
 {
  "encoding": {
   "y": {"field": "d", "type": "quantitative", "scale": {"domain": [0, 380], "reverse": true, "nice": false, "zero": false},
    "axis": {"orient": "left", "title": "PG2208 composite depth (cm below sediment surface)", "titleFontSize": 16.5, "titlePadding": 8, "labelFontSize": 10.5, "labelPadding": 2, "domainWidth": 1.5,
     "values": [0,5,10,15,20,25,30,35,40,45,50,55,60,65,70,75,80,85,90,95,100,105,110,115,120,125,130,135,140,145,150,155,160,165,170,175,180,185,190,195,200,205,210,215,220,225,230,235,240,245,250,255,260,265,270,275,280,285,290,295,300,305,310,315,320,325,330,335,340,345,350,355,360,365,370,375,380],
     "labelExpr": "datum.value % 20 === 0 ? datum.label : ''",
     "tickSize": {"condition": {"test": "datum.value % 20 === 0", "value": 6}, "value": -4}}},
   "order": {"field": "d", "type": "quantitative"},
   "detail": {"field": "g"}
  },
  "layer": [
   {"layer": [
     {"data": {"name": "srrb_raw"}, "mark": {"type": "line", "color": "#9a9a9a", "strokeWidth": 0.9},
      "encoding": {"x": {"field": "v", "type": "quantitative", "scale": {"domain": [1.4, 2.4], "range": [18, 112], "nice": false, "zero": false}, "axis": {"orient": "top", "offset": 11, "title": "Sr/Rb [ALR]", "values": [1.4,1.5,1.6,1.7,1.8,1.9,2,2.1,2.2,2.3,2.4], "format": "~g", "labelExpr": "abs(round(datum.value*5)-datum.value*5) < 0.001 ? datum.label : ''", "tickSize": {"condition": {"test": "abs(round(datum.value*5)-datum.value*5) < 0.001", "value": 8}, "value": 4}, "labelPadding": 2, "titlePadding": 4}}}},
     {"data": {"name": "srrb_s"}, "mark": {"type": "line", "color": "black", "strokeWidth": 1.2},
      "encoding": {"x": {"field": "v", "type": "quantitative", "scale": {"domain": [1.4, 2.4], "range": [18, 112], "nice": false, "zero": false}, "axis": {"orient": "top", "offset": 11, "title": "Sr/Rb [ALR]", "values": [1.4,1.5,1.6,1.7,1.8,1.9,2,2.1,2.2,2.3,2.4], "format": "~g", "labelExpr": "abs(round(datum.value*5)-datum.value*5) < 0.001 ? datum.label : ''", "tickSize": {"condition": {"test": "abs(round(datum.value*5)-datum.value*5) < 0.001", "value": 8}, "value": 4}, "labelPadding": 2, "titlePadding": 4}}}}
   ]},
   {"layer": [
     {"data": {"name": "br_raw"}, "mark": {"type": "line", "color": "#9a9a9a", "strokeWidth": 0.9},
      "encoding": {"x": {"field": "v", "type": "quantitative", "scale": {"domain": [-6, -1], "range": [118, 273], "nice": false, "zero": false}, "axis": {"orient": "bottom", "offset": 8, "title": "Br [CLR]", "values": [-6,-5.5,-5,-4.5,-4,-3.5,-3,-2.5,-2,-1.5,-1], "format": "~g", "labelExpr": "datum.value % 1 === 0 ? datum.label : ''", "tickSize": {"condition": {"test": "datum.value % 1 === 0", "value": 7}, "value": 4}, "labelPadding": 2, "titlePadding": 5}}}},
     {"data": {"name": "br_s"}, "mark": {"type": "line", "color": "black", "strokeWidth": 1.2},
      "encoding": {"x": {"field": "v", "type": "quantitative", "scale": {"domain": [-6, -1], "range": [118, 273], "nice": false, "zero": false}, "axis": {"orient": "bottom", "offset": 8, "title": "Br [CLR]", "values": [-6,-5.5,-5,-4.5,-4,-3.5,-3,-2.5,-2,-1.5,-1], "format": "~g", "labelExpr": "datum.value % 1 === 0 ? datum.label : ''", "tickSize": {"condition": {"test": "datum.value % 1 === 0", "value": 7}, "value": 4}, "labelPadding": 2, "titlePadding": 5}}}}
   ]},
   {"layer": [
     {"data": {"name": "mnfe_raw"}, "mark": {"type": "line", "color": "#9a9a9a", "strokeWidth": 0.9},
      "encoding": {"x": {"field": "v", "type": "quantitative", "scale": {"domain": [-6, 0], "range": [249, 342], "nice": false, "zero": false}, "axis": {"orient": "top", "offset": 11, "title": "Mn/Fe [ALR]", "values": [-6,-5.5,-5,-4.5,-4,-3.5,-3,-2.5,-2,-1.5,-1,-0.5,0], "format": "~g", "labelExpr": "datum.value % 1 === 0 ? datum.label : ''", "tickSize": {"condition": {"test": "datum.value % 1 === 0", "value": 8}, "value": 4}, "labelPadding": 2, "titlePadding": 4}}}},
     {"data": {"name": "mnfe_s"}, "mark": {"type": "line", "color": "black", "strokeWidth": 1.2},
      "encoding": {"x": {"field": "v", "type": "quantitative", "scale": {"domain": [-6, 0], "range": [249, 342], "nice": false, "zero": false}, "axis": {"orient": "top", "offset": 11, "title": "Mn/Fe [ALR]", "values": [-6,-5.5,-5,-4.5,-4,-3.5,-3,-2.5,-2,-1.5,-1,-0.5,0], "format": "~g", "labelExpr": "datum.value % 1 === 0 ? datum.label : ''", "tickSize": {"condition": {"test": "datum.value % 1 === 0", "value": 8}, "value": 4}, "labelPadding": 2, "titlePadding": 4}}}}
   ]},
   {"layer": [
     {"data": {"name": "sial_raw"}, "mark": {"type": "line", "color": "#9a9a9a", "strokeWidth": 0.9},
      "encoding": {"x": {"field": "v", "type": "quantitative", "scale": {"domain": [-4, 12], "range": [362, 479], "nice": false, "zero": false}, "axis": {"orient": "bottom", "offset": 8, "title": "Si/Al [ALR]", "values": [-4,-2,0,2,4,6,8,10,12], "format": "~g", "labelExpr": "datum.value % 4 === 0 ? datum.label : ''", "tickSize": {"condition": {"test": "datum.value % 4 === 0", "value": 7}, "value": 4}, "labelPadding": 2, "titlePadding": 5}}}},
     {"data": {"name": "sial_s"}, "mark": {"type": "line", "color": "black", "strokeWidth": 1.2},
      "encoding": {"x": {"field": "v", "type": "quantitative", "scale": {"domain": [-4, 12], "range": [362, 479], "nice": false, "zero": false}, "axis": {"orient": "bottom", "offset": 8, "title": "Si/Al [ALR]", "values": [-4,-2,0,2,4,6,8,10,12], "format": "~g", "labelExpr": "datum.value % 4 === 0 ? datum.label : ''", "tickSize": {"condition": {"test": "datum.value % 4 === 0", "value": 7}, "value": 4}, "labelPadding": 2, "titlePadding": 5}}}}
   ]},
   {"layer": [
     {"data": {"name": "ti_raw"}, "mark": {"type": "line", "color": "#9a9a9a", "strokeWidth": 0.9},
      "encoding": {"x": {"field": "v", "type": "quantitative", "scale": {"domain": [0.8, 2.4], "range": [473, 583], "nice": false, "zero": false}, "axis": {"orient": "top", "offset": 11, "title": "Ti (CLR)", "values": [0.8,1,1.2,1.4,1.6,1.8,2,2.2,2.4], "format": "~g", "labelExpr": "abs(round(datum.value*2.5)-datum.value*2.5) < 0.001 ? datum.label : ''", "tickSize": {"condition": {"test": "abs(round(datum.value*2.5)-datum.value*2.5) < 0.001", "value": 8}, "value": 4}, "labelPadding": 2, "titlePadding": 4}}}},
     {"data": {"name": "ti_s"}, "mark": {"type": "line", "color": "black", "strokeWidth": 1.2},
      "encoding": {"x": {"field": "v", "type": "quantitative", "scale": {"domain": [0.8, 2.4], "range": [473, 583], "nice": false, "zero": false}, "axis": {"orient": "top", "offset": 11, "title": "Ti (CLR)", "values": [0.8,1,1.2,1.4,1.6,1.8,2,2.2,2.4], "format": "~g", "labelExpr": "abs(round(datum.value*2.5)-datum.value*2.5) < 0.001 ? datum.label : ''", "tickSize": {"condition": {"test": "abs(round(datum.value*2.5)-datum.value*2.5) < 0.001", "value": 8}, "value": 4}, "labelPadding": 2, "titlePadding": 4}}}}
   ]},
   {"data": {"name": "quartz"}, "mark": {"type": "line", "color": "#222222", "strokeWidth": 1},
    "encoding": {"x": {"field": "v", "type": "quantitative", "scale": {"domain": [40, 70], "range": [591, 687], "nice": false, "zero": false}, "axis": {"orient": "bottom", "offset": 8, "title": "Quartz (%)", "values": [40,42.5,45,47.5,50,52.5,55,57.5,60,62.5,65,67.5,70], "format": "~g", "labelExpr": "datum.value % 5 === 0 ? datum.label : ''", "tickSize": {"condition": {"test": "datum.value % 5 === 0", "value": 7}, "value": 4}, "labelPadding": 2, "titlePadding": 5}}}},
   {"data": {"name": "plag"}, "mark": {"type": "line", "color": "#222222", "strokeWidth": 1},
    "encoding": {"x": {"field": "v", "type": "quantitative", "scale": {"domain": [20, 40], "range": [679, 775], "nice": false, "zero": false}, "axis": {"orient": "top", "offset": 11, "title": "Plagioclase (%)", "values": [20,22.5,25,27.5,30,32.5,35,37.5,40], "format": "~g", "labelExpr": "datum.value % 5 === 0 ? datum.label : ''", "tickSize": {"condition": {"test": "datum.value % 5 === 0", "value": 8}, "value": 4}, "labelPadding": 2, "titlePadding": 4}}}},
   {"data": {"name": "kfs"}, "mark": {"type": "line", "color": "#222222", "strokeWidth": 1},
    "encoding": {"x": {"field": "v", "type": "quantitative", "scale": {"domain": [4, 8], "range": [754, 850], "nice": false, "zero": false}, "axis": {"orient": "bottom", "offset": 8, "title": "K-feldspar (%)", "values": [4,4.5,5,5.5,6,6.5,7,7.5,8], "format": "~g", "labelExpr": "datum.value % 1 === 0 ? datum.label : ''", "tickSize": {"condition": {"test": "datum.value % 1 === 0", "value": 7}, "value": 4}, "labelPadding": 2, "titlePadding": 5}}}},
   {"data": {"name": "hbl"}, "mark": {"type": "line", "color": "#222222", "strokeWidth": 1},
    "encoding": {"x": {"field": "v", "type": "quantitative", "scale": {"domain": [2, 5], "range": [814, 910], "nice": false, "zero": false}, "axis": {"orient": "top", "offset": 11, "title": "Hornblende (%)", "values": [2,2.25,2.5,2.75,3,3.25,3.5,3.75,4,4.25,4.5,4.75,5], "format": "~g", "labelExpr": "datum.value % 0.5 === 0 ? datum.label : ''", "tickSize": {"condition": {"test": "datum.value % 0.5 === 0", "value": 8}, "value": 4}, "labelPadding": 2, "titlePadding": 4}}}}
  ],
  "resolve": {"scale": {"x": "independent"}, "axis": {"x": "independent"}}
 },
 {
  "data": {"name": "age"},
  "mark": {"type": "point", "opacity": 0},
  "encoding": {
   "y": {"field": "d", "type": "quantitative", "scale": {"domain": [0, 380], "reverse": true, "nice": false, "zero": false},
    "axis": {"orient": "right", "title": "PG2208 median age (cal. yr BP)", "titleFont": "Liberation Sans", "titleFontSize": 18, "titleAngle": 270, "titleBaseline": "top", "titlePadding": 22, "titleY": 218,
     "labelFont": "Liberation Sans", "labelFontSize": 9.5, "tickSize": 9, "labelPadding": 3, "domainWidth": 2, "tickWidth": 1.5,
     "values": [0,19,39.5,77,104.5,127,149,173,203,220.5,237,256.5,264.3,272.1,279.9,287.7,301,331,360],
     "labelExpr": "['0','500','1000','2000','3000','4000','5000','6000','7000','8000','9000','10 000','11 000','12 000','13 000','15 000','17 000','20 000','23 000'][indexof([0,19,39.5,77,104.5,127,149,173,203,220.5,237,256.5,264.3,272.1,279.9,287.7,301,331,360], datum.value)]"}}
  }
 }
],
"resolve": {"scale": {"y": "independent", "x": "independent"}, "axis": {"y": "independent"}}
}
